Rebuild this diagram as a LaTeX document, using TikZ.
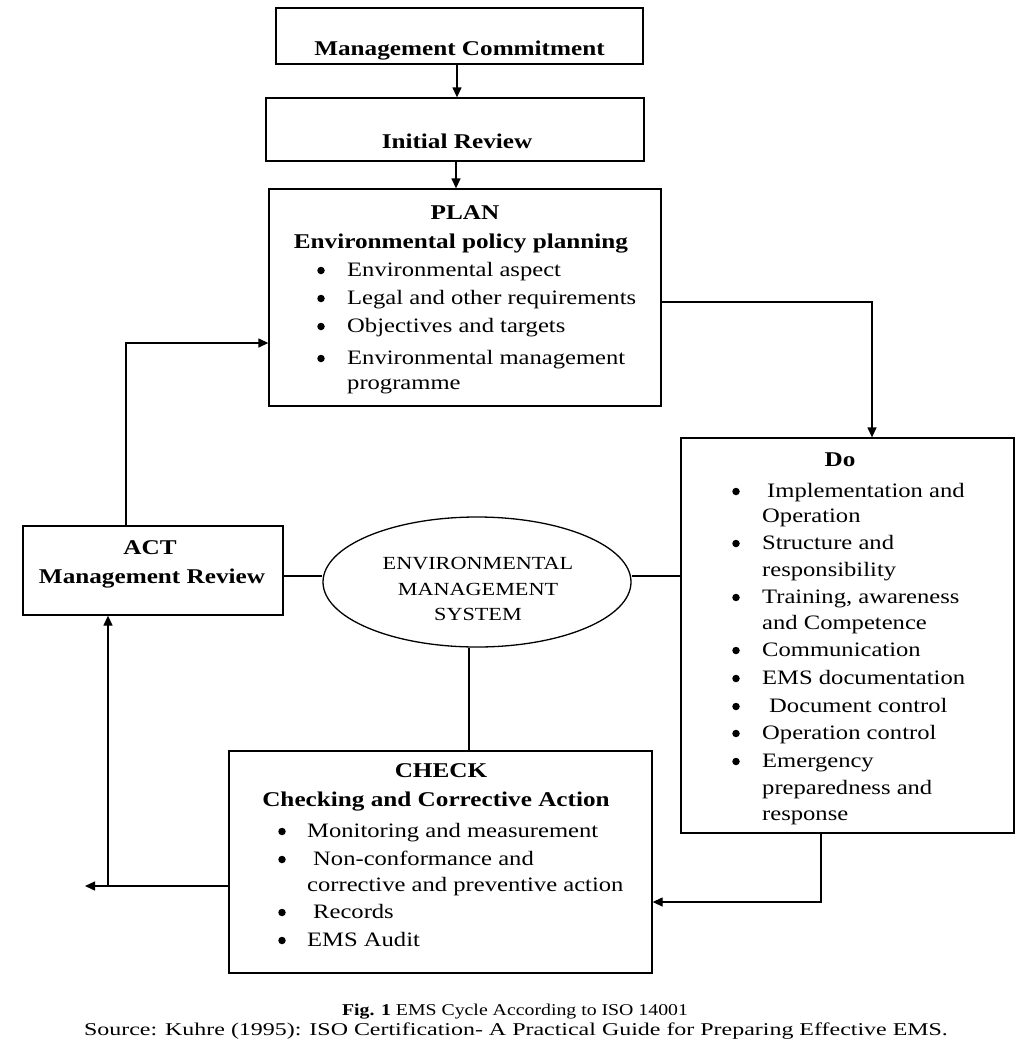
\documentclass[tikz,border=0pt]{standalone}
\usepackage{fontspec}
\setmainfont{Liberation Serif}[FakeStretch=1.2]
\newfontfamily\srcfont{Liberation Serif}[FakeStretch=1.33]
\usetikzlibrary{arrows.meta,shapes.geometric}
\begin{document}
\begin{tikzpicture}[x=1pt,y=-1pt,
 box/.style={draw,line width=1.3pt,inner sep=0pt},
 conn/.style={line width=1.3pt},
 arr/.style={conn,-{Triangle[length=10pt,width=9pt]}},
 head/.style={font=\fontsize{21}{24}\selectfont\bfseries,anchor=base,inner sep=0pt},
 item/.style={font=\fontsize{20.5}{23}\selectfont,anchor=base west,inner sep=0pt},
 bul/.style={circle,fill,inner sep=0pt,minimum size=7.5pt},
 emstext/.style={font=\fontsize{18.5}{21}\selectfont,anchor=base,inner sep=0pt},
 captext/.style={font=\fontsize{16.5}{19}\selectfont,anchor=base,inner sep=0pt}]
\useasboundingbox (0,0) rectangle (1024,1045);

% boxes
\node[box,minimum width=367pt,minimum height=56pt] (mc) at (459.5,36) {};
\node[box,minimum width=378pt,minimum height=63pt] (ir) at (455,129.5) {};
\node[box,minimum width=392pt,minimum height=217pt] (plan) at (465,297.5) {};
\node[box,minimum width=333pt,minimum height=395pt] (do) at (847.5,635.5) {};
\node[box,minimum width=260pt,minimum height=89pt] (act) at (153,570.5) {};
\node[box,minimum width=423pt,minimum height=222pt] (check) at (440.5,862) {};
\node[draw,line width=1.3pt,ellipse,minimum width=308pt,minimum height=130pt,inner sep=0pt] (ems) at (477,582) {};

% texts
\node[head] (t1) at (459.5,55) {Management Commitment};
\node[head] (t2) at (457,148) {Initial Review};

\node[head] (p0) at (465,219) {PLAN};
\node[head] (p1) at (461,248) {Environmental policy planning};
\foreach \y/\t [count=\i] in {276/Environmental aspect,304/Legal and other requirements,332/Objectives and targets,364/Environmental management}{
  \node[bul] (pb\i) at (321,\y-5.5) {};
  \node[item] (pi\i) at (347,\y) {\t};
}
\node[item] (pi5) at (347,389) {programme};

\node[head] (d0) at (840,466) {Do};
\foreach \y [count=\i] in {497,549,603,656,684,712,739,767}{
  \node[bul] (db\i) at (736,\y-5.5) {};
}
\node[item] (di1) at (767,497) {Implementation and};
\node[item] (di2) at (762,522) {Operation};
\node[item] (di3) at (762,549) {Structure and};
\node[item] (di4) at (762,576) {responsibility};
\node[item] (di5) at (762,603) {Training, awareness};
\node[item] (di6) at (762,629) {and Competence};
\node[item] (di7) at (762,656) {Communication};
\node[item] (di8) at (762,684) {EMS documentation};
\node[item] (di9) at (769,712) {Document control};
\node[item] (di10) at (762,739) {Operation control};
\node[item] (di11) at (762,767) {Emergency};
\node[item] (di12) at (762,794) {preparedness and};
\node[item] (di13) at (762,820) {response};

\node[head] (a0) at (150,554) {ACT};
\node[head] (a1) at (152,583) {Management Review};

\node[emstext] (e1) at (478,569) {ENVIRONMENTAL};
\node[emstext] (e2) at (478,595) {MANAGEMENT};
\node[emstext] (e3) at (478,620) {SYSTEM};

\node[head] (c0) at (441,777) {CHECK};
\node[head] (c1) at (436,806) {Checking and Corrective Action};
\foreach \y [count=\i] in {837,865,918,946}{
  \node[bul] (cb\i) at (282,\y-5.5) {};
}
\node[item] (ci1) at (307,837) {Monitoring and measurement};
\node[item] (ci2) at (313,865) {Non-conformance and};
\node[item] (ci3) at (307,891) {corrective and preventive action};
\node[item] (ci4) at (313,918) {Records};
\node[item] (ci5) at (307,946) {EMS Audit};

\node[captext] (f1) at (515,1015) {\textbf{Fig. 1} EMS Cycle According to ISO 14001};
\node[captext,font=\fontsize{18}{20}\srcfont] (f2) at (516,1035) {Source: Kuhre (1995): ISO Certification- A Practical Guide for Preparing Effective EMS.};

% connectors
\coordinate (vx1) at (457,0);
\draw[arr] (vx1 |- mc.south) -- (vx1 |- ir.north);
\coordinate (vx2) at (456,0);
\draw[arr] (vx2 |- ir.south) -- (vx2 |- plan.north);

\coordinate (pd) at (872,302);
\draw[arr] (plan.east |- pd) -- (pd) -- (pd |- do.north);

\coordinate (ap) at (126,343);
\draw[arr] (ap |- act.north) -- (ap) -- (ap -| plan.west);

\coordinate (hy) at (0,576);
\draw[conn] (act.east |- hy) -- (ems.west |- hy);
\draw[conn] (ems.east |- hy) -- (do.west |- hy);

\coordinate (vc) at (469,0);
\draw[conn] (vc |- ems.south) -- (vc |- check.north);

\coordinate (cl) at (85,886);
\draw[arr] (check.west |- cl) -- (cl);
\coordinate (ca) at (108,886);
\draw[arr] (ca) -- (ca |- act.south);

\coordinate (dc) at (821,902);
\draw[arr] (dc |- do.south) -- (dc) -- (dc -| check.east);
\end{tikzpicture}
\end{document}
